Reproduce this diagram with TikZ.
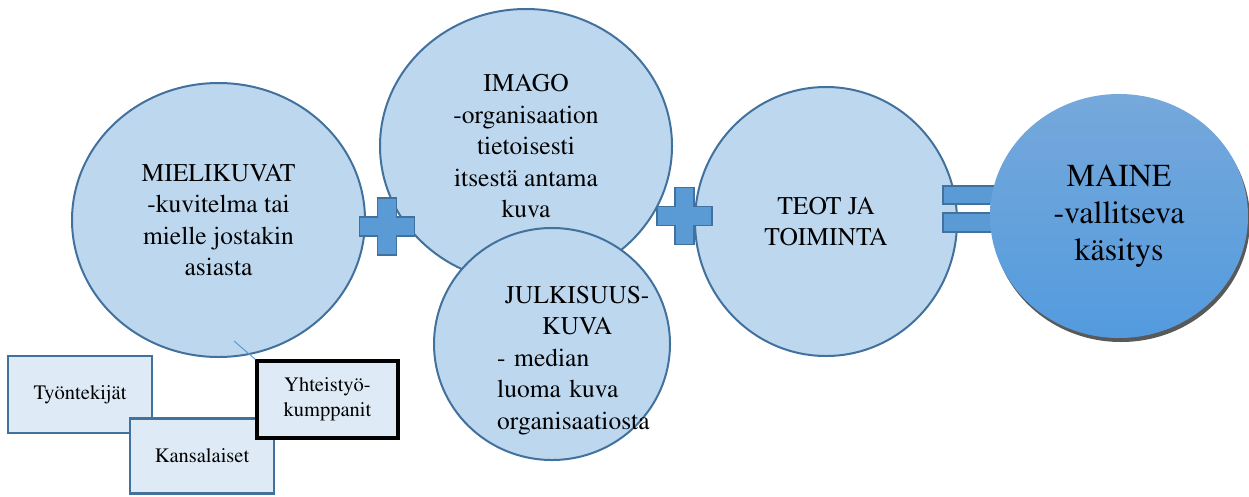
\documentclass[tikz,border=0pt]{standalone}
\usepackage[T1]{fontenc}
\usepackage{mathptmx}
\usetikzlibrary{shapes.geometric,shadows}
\definecolor{bubblefill}{HTML}{BDD7EE}
\definecolor{edge}{HTML}{41719C}
\definecolor{boxfill}{HTML}{DEEBF7}
\definecolor{sign}{HTML}{5B9BD5}
\definecolor{mainetop}{HTML}{76A8DB}
\definecolor{mainebot}{HTML}{539BDE}

\begin{document}
\begin{tikzpicture}[x=1pt,y=1pt,
  bubble/.style={ellipse, draw=edge, line width=2pt, fill=bubblefill, inner sep=0pt, align=center, font=\fontsize{25.5}{31.5}\selectfont},
  group/.style={rectangle, draw=edge, line width=2.6pt, fill=boxfill, inner sep=0pt, align=center, minimum width=144, minimum height=77, font=\fontsize{20.5}{25}\selectfont},
  eqbar/.style={draw=edge, line width=1.8pt, fill=sign},
  plussign/.pic={\draw[eqbar] (-9.5,28.5) -- (9.5,28.5) -- (9.5,9.5) -- (27.5,9.5) -- (27.5,-9.5) -- (9.5,-9.5) -- (9.5,-28.5) -- (-9.5,-28.5) -- (-9.5,-9.5) -- (-27.5,-9.5) -- (-27.5,9.5) -- (-9.5,9.5) -- cycle;},
]
\useasboundingbox (0,0) rectangle (1249,-496);
% the three pictures of the organisation
\node[bubble, minimum width=293, minimum height=274] (mieli) at (218.5,-220) {MIELIKUVAT\\-kuvitelma tai\\mielle jostakin\\asiasta};
\node[bubble, minimum width=292, minimum height=274] (imago) at (526,-146) {IMAGO\\-organisaation\\tietoisesti\\itsestä antama\\kuva};
\node[bubble, minimum width=236, minimum height=232] (julk) at (552,-344) {};
\node[anchor=north west, inner sep=0pt, text width=160, align=left, font=\fontsize{25.5}{31.5}\selectfont] (julktext) at (497,-286) {\centering JULKISUUS-\\KUVA\par\raggedright - median\\luoma kuva\\organisaatiosta};
\node[bubble, minimum width=262, minimum height=269] (teot) at (826,-221.5) {TEOT JA\\TOIMINTA};
% plus and equals signs
\pic at (387,-226.5) {plussign};
\pic at (684.5,-216) {plussign};
\draw[eqbar] (943,-186) rectangle (1010,-204);
\draw[eqbar] (943,-213) rectangle (1010,-232);
% the result
\node[ellipse, inner sep=0pt, align=center, minimum width=258, minimum height=244, top color=mainetop, bottom color=mainebot, drop shadow={shadow xshift=2pt, shadow yshift=-4pt, fill=black!65, opacity=1}, font=\fontsize{32}{37}\selectfont] (maine) at (1119,-216) {MAINE\\-vallitseva\\käsitys};
% stakeholder groups
\node[group] (tyo) at (80,-394.5) {Työntekijät};
\node[group, minimum height=75] (kans) at (202,-456) {Kansalaiset};
\node[group, draw=black, line width=3.2pt, minimum width=141] (yht) at (327.5,-399.5) {Yhteistyö-\\kumppanit};
\coordinate (pin) at (234,-341);
\draw[sign, line width=1pt] (pin) -- (yht.north west);
\end{tikzpicture}
\end{document}
